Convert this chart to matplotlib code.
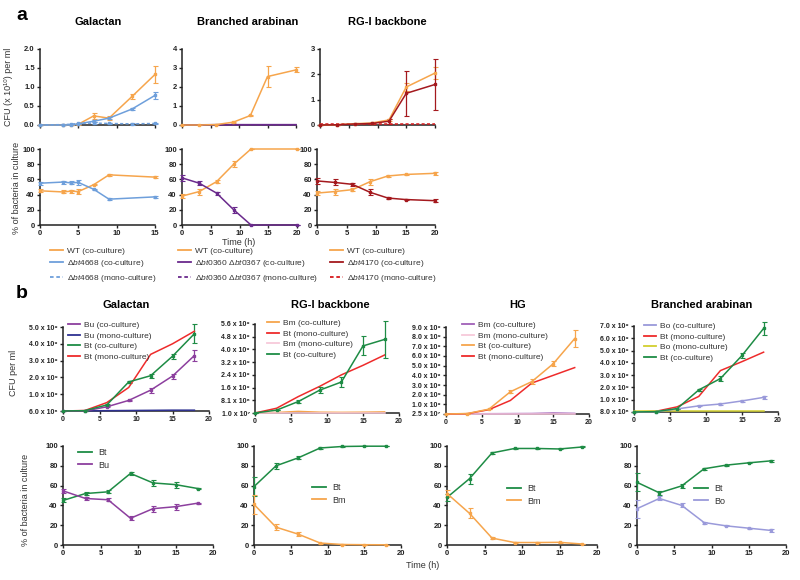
import matplotlib
matplotlib.use("Agg")
import matplotlib.pyplot as plt
from matplotlib.lines import Line2D

plt.rcParams["font.family"] = ["Liberation Sans", "DejaVu Sans"]
plt.rcParams["mathtext.fontset"] = "custom"
plt.rcParams["mathtext.rm"] = "Liberation Sans"
plt.rcParams["mathtext.it"] = "Liberation Sans:italic"

W, H = 800, 580

# ---------------- panel a data ----------------
t_gal_a = [0, 3, 4, 5, 7, 9, 12, 15]
wt_gal_cfu = [0.0, 0.0, 0.0, 0.02, 0.24, 0.18, 0.75, 1.33]
wt_gal_cfu_err = [0, 0, 0, 0.01, 0.08, 0.05, 0.06, 0.23]
d4668_co_cfu = [0.0, 0.0, 0.0, 0.03, 0.10, 0.18, 0.42, 0.78]
d4668_co_cfu_err = [0, 0, 0, 0.01, 0.03, 0.03, 0.03, 0.10]
d4668_mono_cfu = [0.0, 0.01, 0.02, 0.04, 0.05, 0.04, 0.03, 0.04]
d4668_mono_cfu_err = [0, 0.01, 0.01, 0.02, 0.02, 0.02, 0.02, 0.02]

t_arab_a = [0, 3, 6, 9, 12, 15, 20]
wt_arab_cfu = [0.0, 0.0, 0.02, 0.15, 0.5, 2.55, 2.9]
wt_arab_cfu_err = [0, 0, 0, 0.02, 0.02, 0.55, 0.13]
d0360_co_cfu = [0.01, 0.01, 0.02, 0.02, 0.02, 0.02, 0.02]
d0360_mono_cfu = [0.01, 0.01, 0.01, 0.01, 0.01, 0.01, 0.01]

t_rg_a = [0, 3, 6, 9, 12, 15, 20]
wt_rg_cfu = [0.0, 0.01, 0.05, 0.08, 0.2, 1.5, 2.05]
wt_rg_cfu_err = [0, 0, 0.02, 0.03, 0.05, 0.15, 0.22]
d4170_co_cfu = [0.0, 0.01, 0.04, 0.06, 0.15, 1.25, 1.6]
d4170_co_cfu_err = [0, 0, 0.02, 0.03, 0.1, 0.9, 1.0]
d4170_mono_cfu = [0.02, 0.02, 0.02, 0.02, 0.02, 0.02, 0.02]

t_gal_a_pct = [0, 3, 4, 5, 7, 9, 15]
wt_gal_pct = [45, 43.5, 44.5, 44, 53, 66, 63]
wt_gal_pct_err = [2, 2, 2, 3.5, 1, 1, 1]
d4668_pct = [55, 56.5, 55.5, 56, 47, 34, 37]

t_arab_a_pct = [0, 3, 6, 9, 12, 20]
wt_arab_pct = [38, 44, 57, 80, 100, 100]
wt_arab_pct_err = [3, 4, 2, 4, 0, 0]
d0360_pct = [62, 55, 42, 20, 0, 0]
d0360_pct_err = [4, 3, 2, 4, 0, 0]

wt_rg_pct = [42, 44, 46.5, 57, 64.5, 66.5, 68]
wt_rg_pct_err = [3, 4, 2, 4, 1, 1, 2]
d4170_pct = [58, 56, 53.5, 43, 35.5, 33.5, 32]
d4170_pct_err = [4, 4, 2, 4, 1, 1, 2]

# ---------------- panel b data ----------------
t_b = [0, 3, 6, 9, 12, 15, 18]

gal_bu_co = [0, 0.0, 0.25, 0.63, 1.24, 2.08, 3.3]
gal_bu_co_err = [0, 0, 0.03, 0.05, 0.15, 0.15, 0.35]
gal_bu_mono = [0, 0.01, 0.02, 0.03, 0.04, 0.05, 0.05]
gal_bt_co = [0, 0.02, 0.36, 1.73, 2.1, 3.26, 4.6]
gal_bt_co_err = [0, 0, 0.03, 0.07, 0.12, 0.15, 0.55]
gal_bt_mono = [0, 0.03, 0.5, 1.4, 3.37, 4.0, 4.75]

rg_bm_co = [0.02, 0.03, 0.1, 0.05, 0.04, 0.05, 0.07]
rg_bt_mono = [0, 0.3, 1.03, 1.68, 2.4, 3.0, 3.65]
rg_bm_mono = [0.01, 0.01, 0.01, 0.01, 0.01, 0.01, 0.01]
rg_bt_co = [0, 0.18, 0.72, 1.44, 1.95, 4.22, 4.63]
rg_bt_co_err = [0, 0.02, 0.1, 0.2, 0.3, 0.6, 1.15]

hg_bm_co = [0.02, 0.02, 0.03, 0.04, 0.05, 0.1, 0.06]
hg_bm_mono = [0.01, 0.01, 0.01, 0.01, 0.01, 0.01, 0.01]
hg_bt_co = [0, 0.05, 0.5, 2.3, 3.35, 5.2, 7.8]
hg_bt_co_err = [0, 0, 0.02, 0.15, 0.25, 0.25, 0.9]
hg_bt_mono = [0, 0.03, 0.45, 1.4, 3.2, 4.0, 4.8]

ba_bo_co = [0, 0.02, 0.25, 0.5, 0.65, 0.9, 1.19]
ba_bo_co_err = [0, 0, 0.02, 0.04, 0.05, 0.05, 0.1]
ba_bt_mono = [0, 0.05, 0.42, 1.27, 3.37, 4.1, 4.87]
ba_bo_mono = [0.05, 0.05, 0.05, 0.05, 0.05, 0.05, 0.05]
ba_bt_co = [0, 0.03, 0.28, 1.8, 2.72, 4.6, 6.8]
ba_bt_co_err = [0, 0, 0.02, 0.1, 0.2, 0.2, 0.5]

gal_bt_pct = [45, 52, 53.7, 72.3, 62.7, 61, 57]
gal_bt_pct_err = [2, 1.5, 1.5, 1.5, 3, 3, 0.5]
gal_bu_pct = [54.7, 47, 45.7, 27, 36.7, 38.7, 42.3]
gal_bu_pct_err = [2, 1.5, 1.5, 2, 3, 3, 0.5]

rg_bt_pct = [59, 80, 88, 98, 99.5, 99.8, 99.8]
rg_bt_pct_err = [10, 3, 1.5, 1, 0.5, 0.3, 0.3]
rg_bm_pct = [41, 18, 11, 2, 0.5, 0.3, 0.2]
rg_bm_pct_err = [10, 3, 2, 0.5, 0.3, 0.2, 0.2]

hg_bt_pct = [48, 67, 93, 97.5, 97.5, 97, 99]
hg_bt_pct_err = [4, 5, 1, 0.5, 0.5, 0.5, 0.5]
hg_bm_pct = [52, 32, 7, 2.5, 2.5, 2.7, 1]
hg_bm_pct_err = [4, 5, 1, 0.5, 0.5, 0.5, 0.3]

ba_bt_pct = [63.3, 52.7, 59.7, 77, 80.7, 83, 85]
ba_bt_pct_err = [9, 2, 2, 1, 0.5, 0.5, 1]
ba_bo_pct = [36.7, 47, 40, 22.7, 19.3, 17, 14.7]
ba_bo_pct_err = [9, 2, 2, 1, 0.5, 0.5, 1.5]

gal_yticklabels = ["6.0 x 10⁶"] + [f"{v}.0 x 10⁹" for v in range(1, 6)]
rg_yticklabels = ["1.0 x 10⁷", "8.1 x 10⁸", "1.6 x 10⁹", "2.4 x 10⁹",
                  "3.2 x 10⁹", "4.0 x 10⁹", "4.8 x 10⁹", "5.6 x 10⁹"]
hg_yticklabels = ["2.5 x 10⁷"] + [f"{v}.0 x 10⁹" for v in range(1, 10)]
ba_yticklabels = ["8.0 x 10⁶"] + [f"{v}.0 x 10⁹" for v in range(1, 8)]

# colours
ORANGE = "#F6A54C"
BLUE = "#6E9FDB"
PURPLE_A = "#6A2A8C"
DARKRED = "#A4191E"
RED_DASH = "#D7191C"
PURPLE = "#8C3F9E"
NAVY = "#2E3192"
GREEN = "#1E8C45"
RED = "#EE2B2B"
PINK = "#F7C9DA"
HG_PURPLE = "#A060B8"
LAVENDER = "#9A9ADA"
YELLOW = "#D2CF2E"
TXT = "#333333"

fig = plt.figure(figsize=(8, 5.8), dpi=100)


def px_axes(x0, x1, ytop, ybot):
    return fig.add_axes([x0 / W, 1 - ybot / H, (x1 - x0) / W, (ybot - ytop) / H])


def style(ax, xticks, yticks, ylabels=None, show_x=True, size=5.5):
    for s in ["top", "right"]:
        ax.spines[s].set_visible(False)
    for s in ["left", "bottom"]:
        ax.spines[s].set_linewidth(1.1)
        ax.spines[s].set_color("#222222")
    ax.set_xticks(xticks)
    ax.set_yticks(yticks)
    if show_x:
        ax.set_xticklabels([str(v) for v in xticks], fontsize=size, fontweight="bold")
    else:
        ax.set_xticklabels([])
    if ylabels is None:
        ylabels = [f"{v:g}" for v in yticks]
    ax.set_yticklabels(ylabels, fontsize=size, fontweight="bold")
    ax.tick_params(direction="out", length=2.5, width=1, pad=1.2, colors="#222222")


def line(ax, t, y, err=None, color="k", ls="-"):
    if err is None:
        ax.plot(t, y, color=color, lw=1.1, ls=ls, clip_on=False, zorder=3)
    else:
        ax.errorbar(t, y, yerr=err, color=color, lw=1.1, ls=ls, capsize=1.8,
                    capthick=0.8, elinewidth=0.9, marker="s", ms=1.8,
                    clip_on=False, zorder=3)


# ================= panel a =================
fig.text(16 / W, 1 - 16 / H, "a", fontsize=14, fontweight="bold", va="center")
for x, name in [(98, "Galactan"), (248, "Branched arabinan"), (387, "RG-I backbone")]:
    fig.text(x / W, 1 - 22 / H, name, fontsize=8, fontweight="bold", ha="center", va="center")

ax = px_axes(40, 155, 49, 125)
line(ax, t_gal_a, wt_gal_cfu, wt_gal_cfu_err, ORANGE)
line(ax, t_gal_a, d4668_co_cfu, d4668_co_cfu_err, BLUE)
line(ax, t_gal_a, d4668_mono_cfu, d4668_mono_cfu_err, BLUE, ls=(0, (2, 1.5)))
ax.set_xlim(0, 15)
ax.set_ylim(0, 2.0)
style(ax, [0, 5, 10, 15], [0, 0.5, 1.0, 1.5, 2.0], ["0.0", "0.5", "1.0", "1.5", "2.0"], show_x=False)

ax = px_axes(182, 296, 49, 125)
line(ax, t_arab_a, wt_arab_cfu, wt_arab_cfu_err, ORANGE)
line(ax, t_arab_a, d0360_co_cfu, None, PURPLE_A)
line(ax, t_arab_a, d0360_mono_cfu, None, PURPLE_A, ls=(0, (2, 1.5)))
ax.set_xlim(0, 20)
ax.set_ylim(0, 4)
style(ax, [0, 5, 10, 15, 20], [0, 1, 2, 3, 4], show_x=False)

ax = px_axes(320, 435, 49, 125)
line(ax, t_rg_a, wt_rg_cfu, wt_rg_cfu_err, ORANGE)
line(ax, t_rg_a, d4170_co_cfu, d4170_co_cfu_err, DARKRED)
line(ax, t_rg_a, d4170_mono_cfu, None, RED_DASH, ls=(0, (2, 1.5)))
ax.set_xlim(0, 20)
ax.set_ylim(0, 3)
style(ax, [0, 5, 10, 15, 20], [0, 1, 2, 3], show_x=False)

pct_ticks = [0, 20, 40, 60, 80, 100]
ax = px_axes(40, 155, 149, 225)
line(ax, t_gal_a_pct, wt_gal_pct, wt_gal_pct_err, ORANGE)
line(ax, t_gal_a_pct, d4668_pct, wt_gal_pct_err, BLUE)
ax.set_xlim(0, 15)
ax.set_ylim(0, 100)
style(ax, [0, 5, 10, 15], pct_ticks)

ax = px_axes(182, 297, 149, 225)
line(ax, t_arab_a_pct, wt_arab_pct, wt_arab_pct_err, ORANGE)
line(ax, t_arab_a_pct, d0360_pct, d0360_pct_err, PURPLE_A)
ax.set_xlim(0, 20)
ax.set_ylim(0, 100)
style(ax, [0, 5, 10, 15, 20], pct_ticks)

ax = px_axes(317, 435, 149, 225)
line(ax, t_rg_a, wt_rg_pct, wt_rg_pct_err, ORANGE)
line(ax, t_rg_a, d4170_pct, d4170_pct_err, DARKRED)
ax.set_xlim(0, 20)
ax.set_ylim(0, 100)
style(ax, [0, 5, 10, 15, 20], pct_ticks)

fig.text(9 / W, 1 - 87 / H, "CFU (x 10¹⁰) per ml", rotation=90, fontsize=6.5,
         color=TXT, ha="center", va="center")
fig.text(17 / W, 1 - 188 / H, "% of bacteria in culture", rotation=90, fontsize=6.5,
         color=TXT, ha="center", va="center")
fig.text(239 / W, 1 - 242 / H, "Time (h)", fontsize=6.5, color=TXT, ha="center", va="center")

dash = (0, (2, 1.5))
legend_a = [
    (50, [(ORANGE, "-", "WT (co-culture)"),
          (BLUE, "-", r"$\Delta\mathit{bt4668}$ (co-culture)"),
          (BLUE, dash, r"$\Delta\mathit{bt4668}$ (mono-culture)")]),
    (178, [(ORANGE, "-", "WT (co-culture)"),
           (PURPLE_A, "-", r"$\Delta\mathit{bt0360}\ \Delta\mathit{bt0367}$ (co-culture)"),
           (PURPLE_A, dash, r"$\Delta\mathit{bt0360}\ \Delta\mathit{bt0367}$ (mono-culture)")]),
    (330, [(ORANGE, "-", "WT (co-culture)"),
           (DARKRED, "-", r"$\Delta\mathit{bt4170}$ (co-culture)"),
           (RED_DASH, dash, r"$\Delta\mathit{bt4170}$ (mono-culture)")]),
]
for x, items in legend_a:
    handles = [Line2D([], [], color=c, ls=ls, lw=1.3) for c, ls, _ in items]
    labels = [lab for _, _, lab in items]
    fig.legend(handles, labels, loc="upper left", bbox_to_anchor=(x / W, 1 - 247 / H),
               frameon=False, fontsize=6, borderpad=0, borderaxespad=0,
               handlelength=1.5, handletextpad=0.5, labelspacing=0.4,
               labelcolor=TXT)

# ================= panel b =================
fig.text(16 / W, 1 - 294 / H, "b", fontsize=14, fontweight="bold", va="center")
for x, name in [(126, "Galactan"), (330, "RG-I backbone"), (518, "HG"), (702, "Branched arabinan")]:
    fig.text(x / W, 1 - 305 / H, name, fontsize=8, fontweight="bold", ha="center", va="center")

xt = [0, 5, 10, 15, 20]


def top_legend(ax, entries, x, y):
    handles = [Line2D([], [], color=c, lw=1.3) for c, _ in entries]
    labels = [lab for _, lab in entries]
    ax.legend(handles, labels, loc="upper left", bbox_to_anchor=(x / W, 1 - y / H),
              bbox_transform=fig.transFigure, frameon=False, fontsize=6,
              borderpad=0, borderaxespad=0, handlelength=1.4, handletextpad=0.5,
              labelspacing=0.35, labelcolor=TXT)


ax = px_axes(63, 209, 327, 411)
line(ax, t_b, gal_bu_co, gal_bu_co_err, PURPLE)
line(ax, t_b, gal_bu_mono, None, NAVY)
line(ax, t_b, gal_bt_co, gal_bt_co_err, GREEN)
line(ax, t_b, gal_bt_mono, None, RED)
ax.set_xlim(0, 20)
ax.set_ylim(0, 5)
style(ax, xt, range(6), gal_yticklabels, size=5)
top_legend(ax, [(PURPLE, "Bu (co-culture)"), (NAVY, "Bu (mono-culture)"),
                (GREEN, "Bt (co-culture)"), (RED, "Bt (mono-culture)")], 68, 321)

ax = px_axes(255, 399, 324, 413)
line(ax, t_b, rg_bm_co, None, ORANGE)
line(ax, t_b, rg_bt_mono, None, RED)
line(ax, t_b, rg_bm_mono, None, PINK)
line(ax, t_b, rg_bt_co, rg_bt_co_err, GREEN)
ax.set_xlim(0, 20)
ax.set_ylim(0, 5.6)
style(ax, xt, [0.8 * i for i in range(8)], rg_yticklabels, size=5)
top_legend(ax, [(ORANGE, "Bm (co-culture)"), (RED, "Bt (mono-culture)"),
                (PINK, "Bm (mono-culture)"), (GREEN, "Bt (co-culture)")], 267, 319)

ax = px_axes(446, 589, 327, 414)
line(ax, t_b, hg_bm_co, None, HG_PURPLE)
line(ax, t_b, hg_bm_mono, None, PINK)
line(ax, t_b, hg_bt_co, hg_bt_co_err, ORANGE)
line(ax, t_b, hg_bt_mono, None, RED)
ax.set_xlim(0, 20)
ax.set_ylim(0, 9)
style(ax, xt, range(10), hg_yticklabels, size=5)
top_legend(ax, [(HG_PURPLE, "Bm (co-culture)"), (PINK, "Bm (mono-culture)"),
                (ORANGE, "Bt (co-culture)"), (RED, "Bt (mono-culture)")], 462, 321)

ax = px_axes(634, 778, 326, 412)
line(ax, t_b, ba_bo_co, ba_bo_co_err, LAVENDER)
line(ax, t_b, ba_bt_mono, None, RED)
line(ax, t_b, ba_bo_mono, None, YELLOW)
line(ax, t_b, ba_bt_co, ba_bt_co_err, GREEN)
ax.set_xlim(0, 20)
ax.set_ylim(0, 7)
style(ax, xt, range(8), ba_yticklabels, size=5)
top_legend(ax, [(LAVENDER, "Bo (co-culture)"), (RED, "Bt (mono-culture)"),
                (YELLOW, "Bo (mono-culture)"), (GREEN, "Bt (co-culture)")], 644, 322)

bottom_panels = [
    ((63, 213), gal_bt_pct, gal_bt_pct_err, gal_bu_pct, gal_bu_pct_err, PURPLE, "Bu", (78, 448)),
    ((254, 401), rg_bt_pct, rg_bt_pct_err, rg_bm_pct, rg_bm_pct_err, ORANGE, "Bm", (312, 483)),
    ((447, 597), hg_bt_pct, hg_bt_pct_err, hg_bm_pct, hg_bm_pct_err, ORANGE, "Bm", (507, 484)),
    ((637, 786), ba_bt_pct, ba_bt_pct_err, ba_bo_pct, ba_bo_pct_err, LAVENDER, "Bo", (694, 484)),
]
for (x0, x1), bt, bt_e, other, other_e, oc, oname, (lx, ly) in bottom_panels:
    ax = px_axes(x0, x1, 446, 545)
    line(ax, t_b, bt, bt_e, GREEN)
    line(ax, t_b, other, other_e, oc)
    ax.set_xlim(0, 20)
    ax.set_ylim(0, 100)
    style(ax, xt, pct_ticks, size=5.5)
    handles = [Line2D([], [], color=GREEN, lw=1.3), Line2D([], [], color=oc, lw=1.3)]
    ax.legend(handles, ["Bt", oname], loc="upper left", bbox_to_anchor=(lx / W, 1 - ly / H),
              bbox_transform=fig.transFigure, frameon=False, fontsize=6.5,
              borderpad=0, borderaxespad=0, handlelength=1.6, handletextpad=0.6,
              labelspacing=0.4, labelcolor=TXT)

fig.text(14 / W, 1 - 373 / H, "CFU per ml", rotation=90, fontsize=6.5,
         color=TXT, ha="center", va="center")
fig.text(26 / W, 1 - 500 / H, "% of bacteria in culture", rotation=90, fontsize=6.5,
         color=TXT, ha="center", va="center")
fig.text(423 / W, 1 - 566 / H, "Time (h)", fontsize=6.5, color=TXT, ha="center", va="center")

fig.savefig("out.png", dpi=100)
